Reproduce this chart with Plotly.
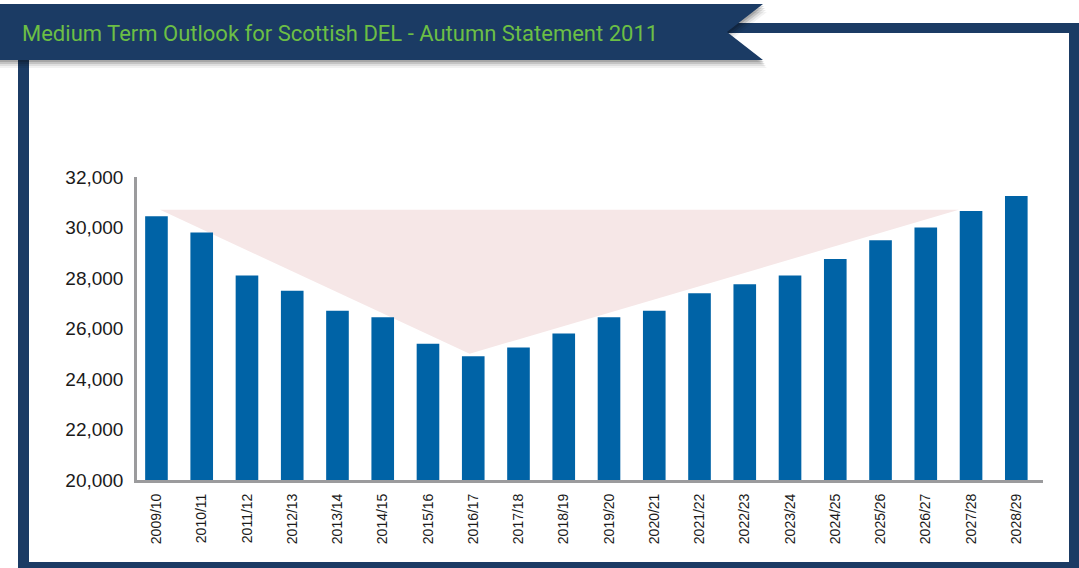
import plotly.graph_objects as go

# Scottish DEL medium term outlook, £ million
years = ["2009/10", "2010/11", "2011/12", "2012/13", "2013/14", "2014/15", "2015/16",
         "2016/17", "2017/18", "2018/19", "2019/20", "2020/21", "2021/22", "2022/23",
         "2023/24", "2024/25", "2025/26", "2026/27", "2027/28", "2028/29"]
del_values = [30450, 29800, 28100, 27500, 26700, 26450, 25400, 24900, 25250, 25800,
              26450, 26700, 27400, 27750, 28100, 28750, 29500, 30000, 30650, 31250]
y_ticks = [20000, 22000, 24000, 26000, 28000, 30000, 32000]

# "V" band: flat top back to the 2009/10 level, dipping to the trough
band_top = 30700
band_low = 25000

W, H = 1079, 568
L, R, T, B = 137, 1043, 177, 480  # plot area in pixels


def px(x):
    return (x - L) / (R - L)


def py(y):
    return (B - y) / (B - T)


def poly(points):
    return "M " + " L ".join(f"{px(x):.5f},{py(y):.5f}" for x, y in points) + " Z"


navy = "#1b3b64"
bar_blue = "#0063a6"
axis_grey = "#9b9b9d"

fig = go.Figure()
fig.add_trace(go.Bar(
    x=list(range(len(years))), y=del_values, width=0.5,
    marker=dict(color=bar_blue, line=dict(width=0)),
    hoverinfo="skip",
))

trough = del_values.index(min(del_values))
shapes = [
    # pale highlight band
    dict(type="path", xref="x", yref="y", layer="below",
         path=(f"M 0.08,{band_top} L {trough - 0.08},{band_low} "
               f"L {len(years) - 2.27},{band_top} Z"),
         fillcolor="#f6e7e7", line=dict(width=0)),
]

# frame around the chart
frame_rects = [
    (18, 55, 29, 568),     # left
    (18, 562, 1079, 568),  # bottom
    (1069, 23, 1079, 568), # right
    (720, 23, 1079, 33),   # top
]
for x0, y0, x1, y1 in frame_rects:
    shapes.append(dict(type="rect", xref="paper", yref="paper",
                       x0=px(x0), x1=px(x1), y0=py(y1), y1=py(y0),
                       fillcolor=navy, line=dict(width=0), layer="above"))

# soft shadow under the title ribbon
for off, alpha in [(8, 0.05), (6, 0.08), (4, 0.12), (2, 0.15)]:
    shapes.append(dict(type="path", xref="paper", yref="paper", layer="above",
                       path=poly([(0, 4 + off), (763 + off / 2, 4 + off), (727 + off / 2, 32 + off),
                                  (763 + off / 2, 60 + off), (0, 60 + off)]),
                       fillcolor=f"rgba(0,0,0,{alpha})", line=dict(width=0)))

# title ribbon
shapes.append(dict(type="path", xref="paper", yref="paper", layer="above",
                   path=poly([(0, 4), (763, 4), (727, 32), (763, 60), (0, 60)]),
                   fillcolor=navy, line=dict(width=0)))

fig.update_layout(
    width=W, height=H,
    margin=dict(l=L, r=W - R, t=T, b=H - B, pad=0),
    paper_bgcolor="white", plot_bgcolor="white",
    showlegend=False,
    shapes=shapes,
    annotations=[dict(
        text="Medium Term Outlook for Scottish DEL - Autumn Statement 2011",
        xref="paper", yref="paper", x=px(20), y=py(34),
        xanchor="left", yanchor="middle", showarrow=False,
        font=dict(family="Roboto", size=22, color="#6cbf45"),
    )],
    bargap=0.5,
)

fig.update_xaxes(
    range=[-0.43, 19.59], tickvals=list(range(len(years))), ticktext=years,
    tickangle=-90, showgrid=False, zeroline=False,
    showline=True, linecolor=axis_grey, linewidth=3,
    ticks="outside", ticklen=5, tickcolor="rgba(0,0,0,0)",
    tickfont=dict(family="Liberation Sans", size=14, color="#1a1a1a"),
)
fig.update_yaxes(
    range=[20000, 32000], tickvals=y_ticks, tickformat=",",
    showgrid=False, zeroline=False,
    showline=True, linecolor=axis_grey, linewidth=2.5,
    ticks="outside", ticklen=7, tickcolor="rgba(0,0,0,0)",
    tickfont=dict(family="Liberation Sans", size=19, color="#1a1a1a"),
)

fig.write_html("out.html")
